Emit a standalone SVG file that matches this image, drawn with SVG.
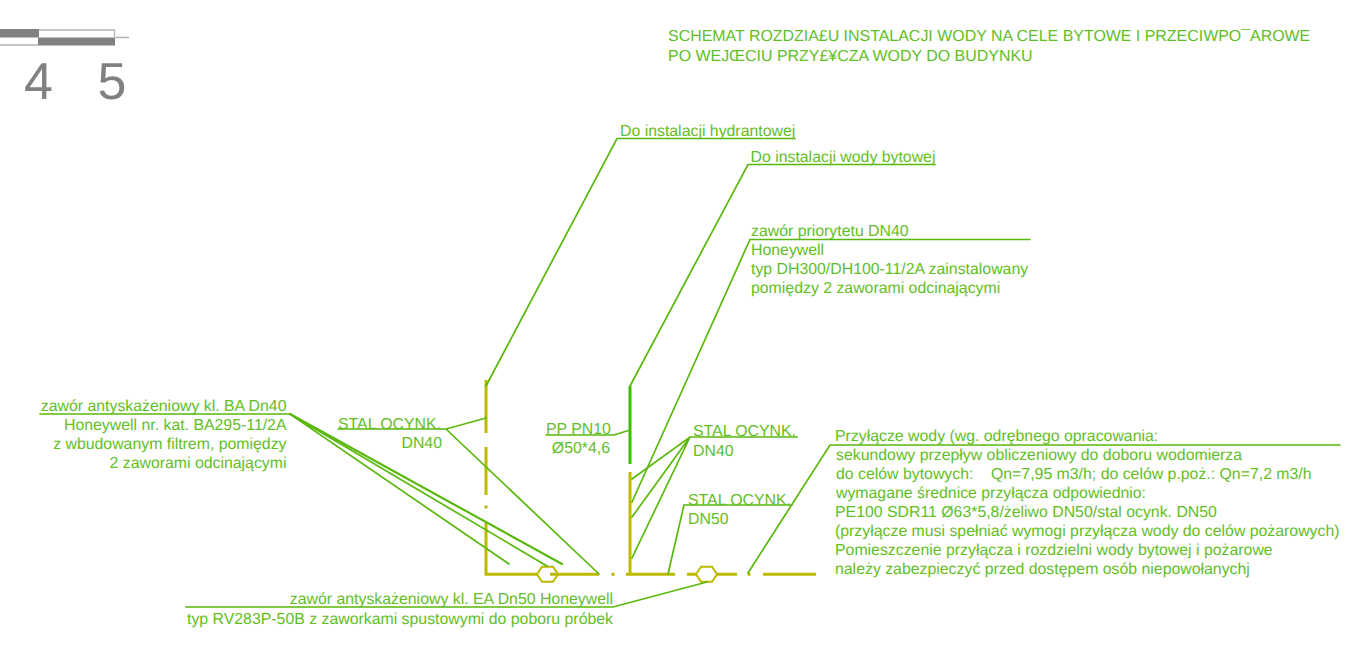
<svg xmlns="http://www.w3.org/2000/svg" width="1363" height="652" viewBox="0 0 1363 652">
<style>
text{font-family:"Liberation Sans",Arial,sans-serif;font-size:15.85px;fill:#62be26;text-rendering:geometricPrecision}
.t{font-size:15.95px}
.e{text-anchor:end}
.l{stroke:#5ab80c;stroke-width:1.700;fill:none;stroke-linecap:round}
.p{stroke:#bdb900;stroke-width:3;fill:none}
.g{fill:#808080}
.n{font-size:52px;fill:#808080}
</style>
<rect width="1363" height="652" fill="#fff"/>
<g id="scale">
<rect class="g" x="0" y="29" width="39" height="8.5"/>
<rect class="g" x="38" y="37.5" width="77" height="8"/>
<path d="M39 30H114.500V37M0 45H38M115 37.500H129" fill="none" stroke="#b4b4b4" stroke-width="1.300"/>
<text class="n" x="24" y="98.500">4</text>
<text class="n" x="97.500" y="98.500">5</text>
</g>
<g id="title">
<text class="t" x="668" y="41">SCHEMAT ROZDZIA£U INSTALACJI WODY NA CELE BYTOWE I PRZECIWPO¯AROWE</text>
<text class="t" x="668" y="61">PO WEJŒCIU PRZY£¥CZA WODY DO BUDYNKU</text>
</g>
<g id="pipes">
<path class="p" d="M486 380V433M486 447V495M486 505.500V508.500M486 523V574.300H537M550 574.300H599M611.500 574.300H614.500M626 574.300H675M687 574.300H696M717 574.300H737M747.500 574.300H750.500M763 574.300H816M630 472V574"/>
<path d="M630 386V464" stroke="#38bc00" stroke-width="3" fill="none"/>
<polygon id="hex1" class="p" style="stroke-width:2" points="537,574.300 542,566.800 553,566.800 558,574.300 553,581.800 542,581.800"/>
<polygon id="hex2" class="p" style="stroke-width:2" points="696,574.300 701,566.800 712,566.800 717,574.300 712,581.800 701,581.800"/>
</g>
<g id="connectors">
<path class="l" d="M795 138.500H617L486 386"/>
<path class="l" d="M935 164.500H748L630 386"/>
<path class="l" d="M1030 239.500H750L632 502"/>
<path class="l" d="M797 437H690L632 479M690 437L632 517M690 437L632 558"/>
<path class="l" d="M792 505H684L668 574"/>
<path class="l" d="M1340 445H830L748 573"/>
<path class="l" d="M546 435H614L630 430"/>
<path class="l" d="M338 429H446L486 418M446 429L599 574"/>
<path class="l" d="M40 414H290L509 564M290 414L547 566"/>
<path class="l" style="stroke-width:2.200" d="M290 414L562 564"/>
<path class="l" d="M186 607H613L707 582"/>
</g>
<g id="label-hydrant"><text x="620" y="135.500">Do instalacji hydrantowej</text></g>
<g id="label-bytowa"><text x="750.500" y="161.500">Do instalacji wody bytowej</text></g>
<g id="label-priorytet">
<text x="751" y="235.500">zawór priorytetu DN40</text>
<text x="751" y="255">Honeywell</text>
<text x="751" y="274">typ DH300/DH100-11/2A zainstalowany</text>
<text x="751" y="293">pomiędzy 2 zaworami odcinającymi</text>
</g>
<g id="label-ba">
<text class="e" x="286.500" y="410.500">zawór antyskażeniowy kl. BA Dn40</text>
<text class="e" x="286.500" y="430">Honeywell nr. kat. BA295-11/2A</text>
<text class="e" x="286.500" y="449.300">z wbudowanym filtrem, pomiędzy</text>
<text class="e" x="286.500" y="468.300">2 zaworami odcinającymi</text>
</g>
<g id="label-stal1">
<text x="338" y="428.500">STAL OCYNK.</text>
<text class="e" x="442" y="448">DN40</text>
</g>
<g id="label-pp">
<text x="546" y="434">PP PN10</text>
<text class="e" x="610" y="453">Ø50*4,6</text>
</g>
<g id="label-stal2">
<text x="693" y="436">STAL OCYNK.</text>
<text x="693" y="456">DN40</text>
</g>
<g id="label-stal3">
<text x="688" y="504.500">STAL OCYNK.</text>
<text x="688" y="524">DN50</text>
</g>
<g id="label-przylacze">
<text x="835" y="441">Przyłącze wody (wg. odrębnego opracowania:</text>
<text x="836" y="460">sekundowy przepływ obliczeniowy do doboru wodomierza</text>
<text x="836" y="479" xml:space="preserve">do celów bytowych:    Qn=7,95 m3/h; do celów p.poż.: Qn=7,2 m3/h</text>
<text x="836" y="498">wymagane średnice przyłącza odpowiednio:</text>
<text x="835" y="517">PE100 SDR11 Ø63*5,8/żeliwo DN50/stal ocynk. DN50</text>
<text x="835" y="536">(przyłącze musi spełniać wymogi przyłącza wody do celów pożarowych)</text>
<text x="835" y="555">Pomieszczenie przyłącza i rozdzielni wody bytowej i pożarowe</text>
<text x="835" y="574">należy zabezpieczyć przed dostępem osób niepowołanychj</text>
</g>
<g id="label-ea">
<text class="e" x="613" y="604">zawór antyskażeniowy kl. EA Dn50 Honeywell</text>
<text class="e" x="613" y="624">typ RV283P-50B z zaworkami spustowymi do poboru próbek</text>
</g>
</svg>
